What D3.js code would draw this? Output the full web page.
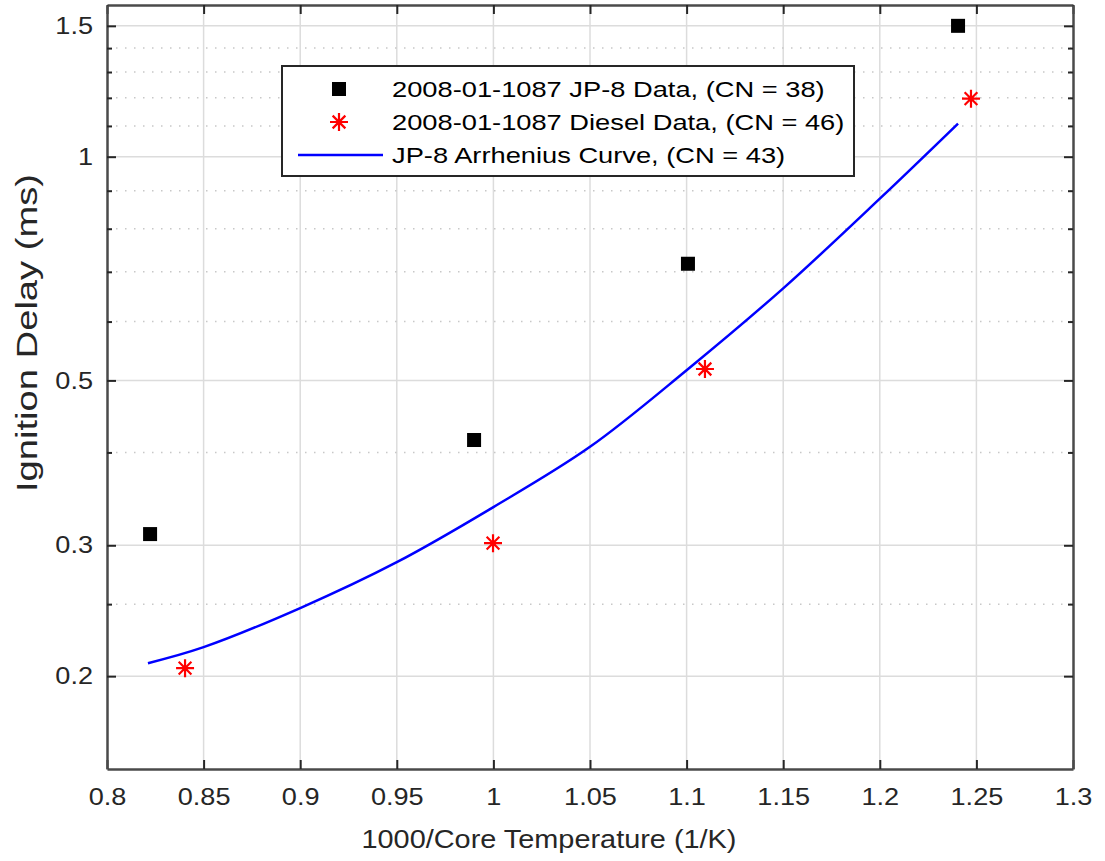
<!DOCTYPE html>
<html>
<head>
<meta charset="utf-8">
<script src="https://cdn.jsdelivr.net/npm/d3@7"></script>
<style>
  html, body { margin: 0; padding: 0; background: #fff; }
  svg { display: block; font-family: "Liberation Sans", Arial, sans-serif; }
</style>
</head>
<body>
<div id="chart"></div>
<script>
// Ignition delay vs inverse core temperature, MATLAB-style log-y axes.
var jp8X = [0.8223, 0.990, 1.1007, 1.2405];
var jp8Y = [0.3106, 0.4157, 0.7177, 1.50];

var dieselX = [0.8404, 0.9998, 1.1095, 1.2472];
var dieselY = [0.205, 0.302, 0.518, 1.197];

var curveX = [0.8212, 0.85, 0.90, 0.95, 1.00, 1.05, 1.10, 1.15, 1.20, 1.2405];
var curveY = [0.2082, 0.2188, 0.2470, 0.2847, 0.3377, 0.407, 0.516, 0.665, 0.878, 1.108];

var xTicks = [0.8, 0.85, 0.9, 0.95, 1, 1.05, 1.1, 1.15, 1.2, 1.25, 1.3];
var yMajor = [0.2, 0.3, 0.5, 1, 1.5];
var yMinor = [0.25, 0.4, 0.6, 0.7, 0.8, 0.9, 1.1, 1.2, 1.3, 1.4];

var legendLabels = [
  "2008-01-1087 JP-8 Data, (CN = 38)",
  "2008-01-1087 Diesel Data, (CN = 46)",
  "JP-8 Arrhenius Curve, (CN = 43)"
];

(function () {
  var W = 1105, H = 861;
  var L = 107, R = 1073, T = 5, B = 769;
  var ink = "#262626";
  var SX = 1.13; // glyphs in the source are a little wider than Liberation Sans

  var x = d3.scaleLinear().domain([0.8, 1.3]).range([L, R]);
  var y = d3.scaleLog().domain([0.15, 1.6]).range([B, T]);

  var svg = d3.select("#chart").append("svg")
    .attr("width", W).attr("height", H);

  // -- grid --------------------------------------------------------------
  var grid = svg.append("g");
  grid.selectAll("line.vx").data(xTicks.slice(1, -1)).join("line")
    .attr("x1", x).attr("x2", x).attr("y1", T).attr("y2", B)
    .attr("stroke", "#dcdcdc").attr("stroke-width", 1.5);
  grid.selectAll("line.my").data(yMinor).join("line")
    .attr("x1", L).attr("x2", R).attr("y1", y).attr("y2", y)
    .attr("stroke", "#c8c8c8").attr("stroke-width", 1.5)
    .attr("stroke-dasharray", "1.5,7.5");
  grid.selectAll("line.hy").data(yMajor).join("line")
    .attr("x1", L).attr("x2", R).attr("y1", y).attr("y2", y)
    .attr("stroke", "#dcdcdc").attr("stroke-width", 1.5);

  // -- axes (ticks inward, mirrored on the opposite side) ----------------
  var axes = svg.append("g").attr("color", ink);

  var bottom = axes.append("g").attr("transform", "translate(0," + B + ")")
    .call(d3.axisBottom(x).tickValues(xTicks).tickFormat(d3.format("~g"))
      .tickSizeInner(-9).tickSizeOuter(0).tickPadding(19));
  axes.append("g").attr("transform", "translate(0," + T + ")")
    .call(d3.axisTop(x).tickValues(xTicks).tickFormat("")
      .tickSizeInner(-9).tickSizeOuter(0));
  var left = axes.append("g").attr("transform", "translate(" + L + ",0)")
    .call(d3.axisLeft(y).tickValues(yMajor).tickFormat(d3.format("~g"))
      .tickSizeInner(-9).tickSizeOuter(0).tickPadding(14));
  axes.append("g").attr("transform", "translate(" + R + ",0)")
    .call(d3.axisRight(y).tickValues(yMajor).tickFormat("")
      .tickSizeInner(-9).tickSizeOuter(0));
  axes.append("g").attr("transform", "translate(" + L + ",0)")
    .call(d3.axisLeft(y).tickValues(yMinor).tickFormat("").tickSizeInner(-5).tickSizeOuter(0))
    .select(".domain").remove();
  axes.append("g").attr("transform", "translate(" + R + ",0)")
    .call(d3.axisRight(y).tickValues(yMinor).tickFormat("").tickSizeInner(-5).tickSizeOuter(0))
    .select(".domain").remove();

  axes.selectAll("g")
    .attr("font-size", 24)
    .attr("font-family", "'Liberation Sans', Arial, sans-serif");
  axes.selectAll(".domain").attr("stroke", "#4a4a4a").attr("stroke-width", 2.5);
  axes.selectAll(".tick line").attr("stroke", ink).attr("stroke-width", 2);
  axes.selectAll(".tick text").attr("fill", ink);

  // widen tick labels around their anchor point
  bottom.selectAll(".tick text").attr("transform", "scale(" + SX + ",1)");
  left.selectAll(".tick text")
    .attr("x", 0)
    .attr("transform", "translate(-14,0) scale(" + SX + ",1)");

  // -- axis labels ---------------------------------------------------------
  svg.append("text")
    .attr("x", 549).attr("y", 848)
    .attr("text-anchor", "middle").attr("font-size", 25).attr("fill", ink)
    .attr("textLength", 375).attr("lengthAdjust", "spacingAndGlyphs")
    .text("1000/Core Temperature (1/K)");
  svg.append("text")
    .attr("transform", "translate(37,333) rotate(-90)")
    .attr("text-anchor", "middle").attr("font-size", 30).attr("fill", ink)
    .attr("textLength", 318).attr("lengthAdjust", "spacingAndGlyphs")
    .text("Ignition Delay (ms)");

  // -- series --------------------------------------------------------------
  var plot = svg.append("g");
  var curve = curveX.map(function (d, i) { return [d, curveY[i]]; });
  plot.append("path")
    .datum(curve)
    .attr("fill", "none").attr("stroke", "#0000ff").attr("stroke-width", 2.5)
    .attr("d", d3.line().curve(d3.curveCatmullRom)
      .x(function (d) { return x(d[0]); })
      .y(function (d) { return y(d[1]); }));

  var sq = 14;
  plot.selectAll("rect.jp8").data(jp8X).join("rect")
    .attr("x", function (d) { return x(d) - sq / 2; })
    .attr("y", function (d, i) { return y(jp8Y[i]) - sq / 2; })
    .attr("width", sq).attr("height", sq).attr("fill", "#000");

  function star(r) {
    var k = r * Math.SQRT1_2;
    return "M" + (-r) + ",0L" + r + ",0M0," + (-r) + "L0," + r +
      "M" + (-k) + "," + (-k) + "L" + k + "," + k +
      "M" + (-k) + "," + k + "L" + k + "," + (-k);
  }
  plot.selectAll("path.diesel").data(dieselX).join("path")
    .attr("transform", function (d, i) {
      return "translate(" + x(d) + "," + y(dieselY[i]) + ")";
    })
    .attr("d", star(9)).attr("stroke", "#ff0000").attr("stroke-width", 2.2)
    .attr("fill", "none");

  // -- legend --------------------------------------------------------------
  var lg = svg.append("g");
  lg.append("rect")
    .attr("x", 282).attr("y", 66).attr("width", 572).attr("height", 110)
    .attr("fill", "#fff").attr("stroke", ink).attr("stroke-width", 2);
  var rowY = [89, 122, 155];
  lg.append("rect").attr("x", 339 - sq / 2).attr("y", rowY[0] - sq / 2)
    .attr("width", sq).attr("height", sq).attr("fill", "#000");
  lg.append("path").attr("transform", "translate(339," + rowY[1] + ")")
    .attr("d", star(9)).attr("stroke", "#ff0000").attr("stroke-width", 2.2);
  lg.append("line").attr("x1", 298).attr("x2", 383)
    .attr("y1", rowY[2]).attr("y2", rowY[2])
    .attr("stroke", "#0000ff").attr("stroke-width", 2.5);
  lg.selectAll("text").data(legendLabels).join("text")
    .attr("transform", function (d, i) {
      return "translate(392," + rowY[i] + ") scale(1.24,1)";
    })
    .attr("dy", "0.35em").attr("font-size", 22).attr("fill", "#000")
    .text(function (d) { return d; });
})();
</script>
</body>
</html>
